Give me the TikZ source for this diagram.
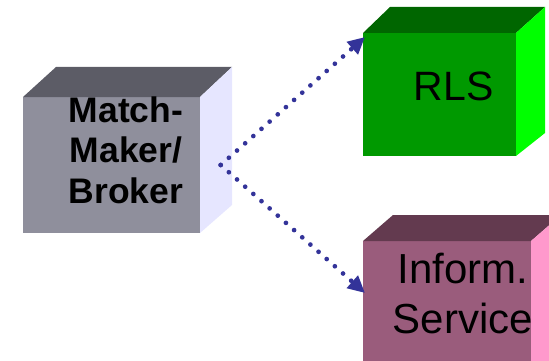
\documentclass[tikz,border=0pt]{standalone}
\usepackage{fontspec}
\setmainfont{Liberation Sans}
\usetikzlibrary{arrows.meta}
\definecolor{mmfront}{HTML}{8F8F9C}
\definecolor{mmtop}{HTML}{5C5C66}
\definecolor{mmside}{HTML}{E6E6FF}
\definecolor{rlsfront}{HTML}{009900}
\definecolor{rlstop}{HTML}{006600}
\definecolor{rlsside}{HTML}{00FF00}
\definecolor{infofront}{HTML}{9A5C7C}
\definecolor{infotop}{HTML}{633A4F}
\definecolor{infoside}{HTML}{FF99CC}
\definecolor{arrowblue}{HTML}{333399}
\begin{document}
\begin{tikzpicture}[x=1pt,y=-1pt,
  face/.style={draw=none,inner sep=0pt,outer sep=0pt,anchor=north west},
  lbl/.style={inner sep=0pt,align=center,text=black},
  dotarrow/.style={draw=arrowblue,line width=4.7pt,line cap=round,
    dash pattern=on 0pt off 10.9pt,
    -{Triangle[length=17pt,width=16pt]}}]
\useasboundingbox (0,0) rectangle (549,361);
\clip (0,0) rectangle (549,361);
% Match-Maker/Broker box
\node[face,fill=mmfront,minimum width=177pt,minimum height=136pt] (mm) at (23,97) {};
\fill[mmtop] (mm.north west) -- ++(33,-30) -- (232,67) -- (mm.north east) -- cycle;
\fill[mmside] (mm.north east) -- (232,67) -- (232,205) -- (mm.south east) -- cycle;
\node[lbl,font=\fontsize{35.5pt}{40.5pt}\selectfont\bfseries,anchor=base] (mmtext) at (126,203) {Match-\\Maker/\\Broker};
% RLS box
\node[face,fill=rlsfront,minimum width=153pt,minimum height=123pt] (rls) at (363,33) {};
\fill[rlstop] (rls.north west) -- ++(27,-26) -- (545,7) -- (rls.north east) -- cycle;
\fill[rlsside] (rls.north east) -- (545,7) -- (545,133) -- (rls.south east) -- cycle;
\node[lbl,font=\fontsize{41pt}{48pt}\selectfont,anchor=base] (rlstext) at (453.5,100) {RLS};
% Inform. Service box
\node[face,fill=infofront,minimum width=168pt,minimum height=140pt] (info) at (363,241) {};
\fill[infotop] (info.north west) -- ++(30,-26) -- (561,215) -- (info.north east) -- cycle;
\fill[infoside] (info.north east) -- (561,215) -- (561,381) -- (info.south east) -- cycle;
\node[lbl,font=\fontsize{42pt}{50pt}\selectfont,anchor=base] (infotext) at (463,333) {Inform.\\Service};
% connectors
\coordinate (mmout) at (220.7,165);
\coordinate (rlsin) at (365,37);
\coordinate (infoin) at (365,293);
\draw[dotarrow] (mmout) -- (rlsin);
\draw[dotarrow] (mmout) -- (infoin);
\end{tikzpicture}
\end{document}
